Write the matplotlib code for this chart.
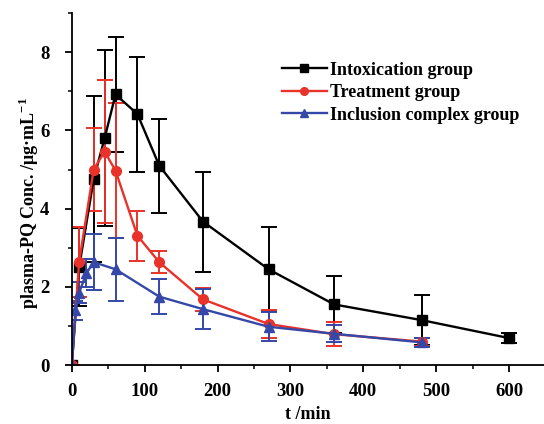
import numpy as np
import matplotlib
matplotlib.use("Agg")
import matplotlib.pyplot as plt
from matplotlib.ticker import MultipleLocator
from matplotlib.lines import Line2D

# ---- data ----
t_intox = [0, 10, 30, 45, 60, 90, 120, 180, 270, 360, 480, 600]
y_intox = [0, 2.50, 4.75, 5.80, 6.92, 6.42, 5.10, 3.67, 2.45, 1.55, 1.15, 0.69]
e_intox = [np.nan, 1.00, 2.12, 2.25, 1.46, 1.47, 1.20, 1.28, 1.08, 0.73, 0.63, 0.12]

t_treat = [0, 10, 30, 45, 60, 90, 120, 180, 270, 360, 480]
y_treat = [0, 2.63, 5.00, 5.46, 4.97, 3.31, 2.63, 1.68, 1.05, 0.79, 0.60]
e_treat = [0, 0.90, 1.07, 1.83, 1.72, 0.64, 0.28, 0.30, 0.35, 0.31, 0.10]

t_incl = [0, 5, 10, 20, 30, 60, 120, 180, 270, 360, 480]
y_incl = [0, 1.40, 1.85, 2.35, 2.63, 2.45, 1.75, 1.43, 0.98, 0.80, 0.58]
e_incl = [np.nan, 0.25, 0.27, 0.36, 0.72, 0.80, 0.44, 0.51, 0.37, 0.22, 0.12]

labels = ["Intoxication group", "Treatment group", "Inclusion complex group"]
colors = ["#000000", "#e8322a", "#3548a8"]
markers = ["s", "o", "^"]

plt.rcParams['font.family'] = ['Liberation Serif', 'DejaVu Serif']
plt.rcParams['font.weight'] = 'bold'
plt.rcParams['mathtext.fontset'] = 'custom'
plt.rcParams['mathtext.rm'] = 'Liberation Serif:bold'
plt.rcParams['mathtext.bf'] = 'Liberation Serif:bold'

fig = plt.figure(figsize=(5.44, 4.24), dpi=100)
ax = fig.add_axes([0.132, 0.139, 0.868, 0.83])

series = [(t_intox, y_intox, e_intox), (t_treat, y_treat, e_treat), (t_incl, y_incl, e_incl)]
for (t, y, e), lab, c, m in zip(series, labels, colors, markers):
    ax.errorbar(t, y, yerr=e, color=c, marker=m, markersize=7, lw=1.7,
                elinewidth=1.4, capsize=6, capthick=1.4, label=lab)

ax.set_xlim(0, 648)
ax.set_ylim(0, 9)
ax.xaxis.set_major_locator(MultipleLocator(100))
ax.xaxis.set_minor_locator(MultipleLocator(50))
ax.yaxis.set_major_locator(MultipleLocator(2))
ax.yaxis.set_minor_locator(MultipleLocator(1))
ax.tick_params(which='major', direction='out', length=5, width=1.3, labelsize=13.5)
ax.tick_params(axis='x', which='major', pad=8)
ax.tick_params(axis='y', which='major', pad=11)
ax.tick_params(which='minor', direction='out', length=3, width=1.1)
for lab in ax.get_xticklabels() + ax.get_yticklabels():
    lab.set_fontweight('bold')
for s in ['top', 'right']:
    ax.spines[s].set_visible(False)
for s in ['left', 'bottom']:
    ax.spines[s].set_linewidth(1.3)

ax.set_xlabel("t /min", fontsize=13, fontweight='bold', labelpad=4)
ax.set_ylabel(r"plasma-PQ Conc. /μg·mL$^{\mathbf{-1}}$", fontsize=13, fontweight='bold')
ax.yaxis.set_label_coords(-0.066, 0.46)

h2 = [Line2D([0], [0], color=c, marker=m, markersize=5.5, lw=1.7) for c, m in zip(colors, markers)]
leg = ax.legend(h2, labels, loc='upper left', bbox_to_anchor=(0.41, 0.908), frameon=False,
                handlelength=2.5, handletextpad=0.15, labelspacing=0.3,
                prop={'weight': 'bold', 'size': 13})

fig.savefig("out.png", dpi=100, facecolor='white')
